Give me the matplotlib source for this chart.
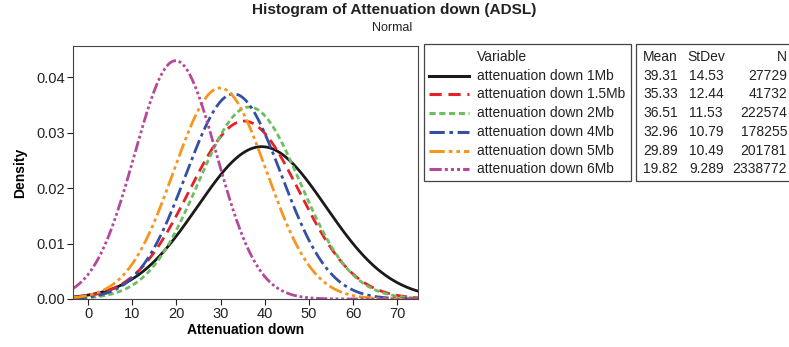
import numpy as np
import matplotlib
matplotlib.use("Agg")
import matplotlib.pyplot as plt
from matplotlib.lines import Line2D
from matplotlib.patches import Rectangle

plt.rcParams['font.family'] = ['Liberation Sans', 'DejaVu Sans']

labels = ["attenuation down 1Mb", "attenuation down 1.5Mb", "attenuation down 2Mb",
          "attenuation down 4Mb", "attenuation down 5Mb", "attenuation down 6Mb"]
means = [39.31, 35.33, 36.51, 32.96, 29.89, 19.82]
stdevs = [14.53, 12.44, 11.53, 10.79, 10.49, 9.289]
ns = [27729, 41732, 222574, 178255, 201781, 2338772]
mean_txt = ["39.31", "35.33", "36.51", "32.96", "29.89", "19.82"]
sd_txt = ["14.53", "12.44", "11.53", "10.79", "10.49", "9.289"]
xticks = [0, 10, 20, 30, 40, 50, 60, 70]
yticks = [0.00, 0.01, 0.02, 0.03, 0.04]

colors = ["#1a1a1a", "#e82128", "#6dbe5f", "#3450a4", "#f7951e", "#b5489b"]
styles = ["-", (0, (4, 2.2)), (0, (2, 1.2)), (0, (5, 1.5, 1.2, 1.5)),
          (0, (5, 1.3, 1.2, 1.3, 1.2, 1.3)), (0, (4, 1, 1, 1, 1, 1, 1, 1))]

W, H = 789, 347
fig = plt.figure(figsize=(W/100, H/100), dpi=100)

def fx(px): return px / W
def fy(py): return 1 - py / H

ax = fig.add_axes([fx(73), fy(299), fx(418) - fx(73), fy(46) - fy(299)])
x = np.linspace(-3.4, 74.7, 600)
for m, s, c, ls in zip(means, stdevs, colors, styles):
    y = np.exp(-0.5 * ((x - m) / s) ** 2) / (s * np.sqrt(2 * np.pi))
    ax.plot(x, y, color=c, linestyle=ls, lw=2.0)
ax.set_xlim(-3.4, 74.7)
ax.set_ylim(0, 0.0456)
ax.set_xticks(xticks)
ax.set_yticks(yticks)
ax.set_yticklabels([f"{v:.2f}" for v in yticks])
ax.tick_params(labelsize=10.5, length=4, width=0.8, colors="#222222", pad=2)
for sp in ax.spines.values():
    sp.set_color("#444444")
    sp.set_linewidth(0.8)
ax.set_xlabel("Attenuation down", fontsize=10, fontweight="bold", labelpad=1)
ax.set_ylabel("Density", fontsize=10, fontweight="bold", labelpad=6)

fig.text(fx(394), fy(10), "Histogram of Attenuation down (ADSL)", fontsize=11.1,
         fontweight="bold", ha="center", va="center", color="#222222")
fig.text(fx(392), fy(28), "Normal", fontsize=9, ha="center", va="center", color="#222222")

# legend box
fig.patches.append(Rectangle((fx(424), fy(181)), fx(631) - fx(424), fy(44) - fy(181),
                             transform=fig.transFigure, fill=False, ec="#444444", lw=0.9))
fig.patches.append(Rectangle((fx(636), fy(181)), fx(800) - fx(636), fy(44) - fy(181),
                             transform=fig.transFigure, fill=False, ec="#444444", lw=0.9))

row_y = [57, 75.7, 94, 113, 131.7, 150.7, 169.3]
fs = 10
fig.text(fx(477), fy(row_y[0]), "Variable", fontsize=fs, va="center", ha="left", color="#222222")
fig.text(fx(643), fy(row_y[0]), "Mean", fontsize=fs, va="center", ha="left", color="#222222")
fig.text(fx(687), fy(row_y[0]), "StDev", fontsize=fs, va="center", ha="left", color="#222222")
fig.text(fx(787), fy(row_y[0]), "N", fontsize=fs, va="center", ha="right", color="#222222")
for i in range(6):
    yy = fy(row_y[i + 1])
    fig.lines.append(Line2D([fx(429), fx(469)], [yy, yy], transform=fig.transFigure,
                            color=colors[i], linestyle=styles[i], lw=2.2))
    fig.text(fx(477), yy, labels[i], fontsize=fs, va="center", ha="left", color="#222222")
    fig.text(fx(643), yy, mean_txt[i], fontsize=fs, va="center", ha="left", color="#222222")
    fig.text(fx(689), yy, sd_txt[i], fontsize=fs, va="center", ha="left", color="#222222")
    fig.text(fx(787), yy, str(ns[i]), fontsize=fs, va="center", ha="right", color="#222222")

fig.savefig("out.png", dpi=100)
